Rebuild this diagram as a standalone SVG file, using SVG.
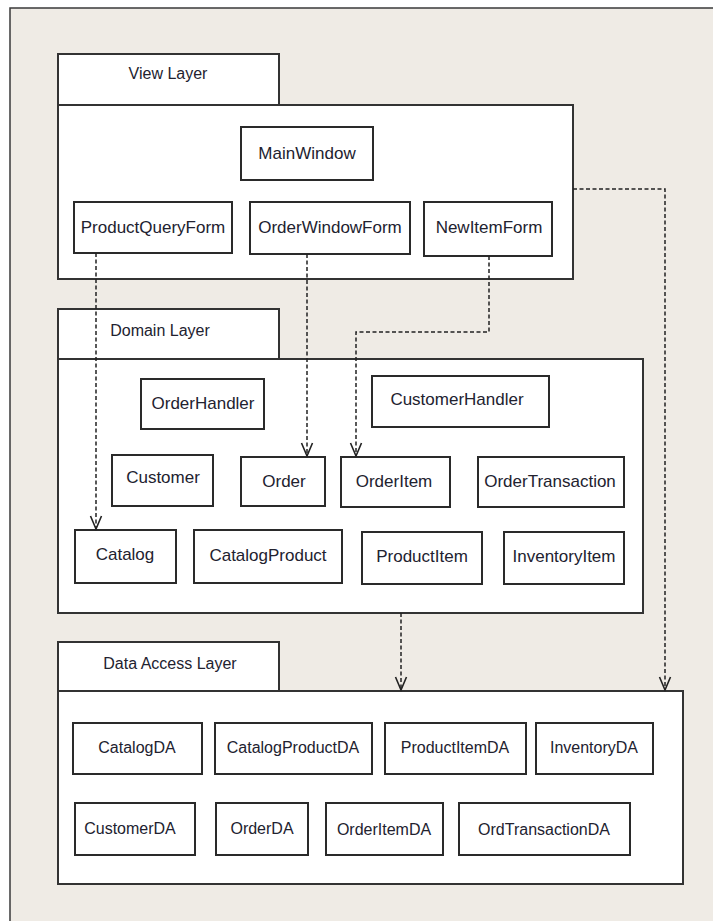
<svg xmlns="http://www.w3.org/2000/svg" width="713" height="921" viewBox="0 0 713 921">
<style>
  .bg { fill: #ffffff; }
  .frame { fill: #efebe5; stroke: #3a3a3a; stroke-width: 1.5; }
  .pkg { fill: #ffffff; stroke: #333333; stroke-width: 2; }
  .box { fill: #ffffff; stroke: #2a2a2a; stroke-width: 2; }
  .t { font-family: "Liberation Sans", Arial, sans-serif; font-size: 17px; fill: #22222f; text-anchor: middle; dominant-baseline: central; }
  .da { font-size: 16px; }
  .tab { font-size: 16px; }
  .dep { fill: none; stroke: #222222; stroke-width: 1.5; stroke-dasharray: 4 2.5; }
</style>
<defs>
  <marker id="open" viewBox="-15 -8 17 16" markerWidth="17" markerHeight="16" refX="0" refY="0" orient="auto" markerUnits="userSpaceOnUse" overflow="visible">
    <polyline points="-13,-5.5 0,0 -13,5.5" fill="none" stroke="#222222" stroke-width="1.6"/>
  </marker>
</defs>
<rect class="bg" x="0" y="0" width="713" height="921"/>
<rect class="frame" x="10" y="8" width="720" height="930"/>

<g id="view-layer">
  <rect class="pkg" x="58" y="54" width="221" height="51"/>
  <rect class="pkg" x="58" y="105" width="515" height="174"/>
  <text class="t tab" x="168" y="73">View Layer</text>
</g>
<g id="domain-layer">
  <rect class="pkg" x="58" y="309" width="221" height="50"/>
  <rect class="pkg" x="58" y="359" width="585" height="254"/>
  <text class="t tab" x="160" y="330">Domain Layer</text>
</g>
<g id="data-access-layer">
  <rect class="pkg" x="58" y="642" width="221" height="49"/>
  <rect class="pkg" x="58" y="691" width="625" height="193"/>
  <text class="t tab" x="170" y="663">Data Access Layer</text>
</g>

<g id="MainWindow"><rect class="box" x="241" y="127" width="132" height="53"/><text class="t" x="307" y="153">MainWindow</text></g>
<g id="ProductQueryForm"><rect class="box" x="74" y="202" width="158" height="51"/><text class="t" x="153" y="227">ProductQueryForm</text></g>
<g id="OrderWindowForm"><rect class="box" x="250" y="202" width="160" height="52"/><text class="t" x="330" y="227">OrderWindowForm</text></g>
<g id="NewItemForm"><rect class="box" x="424" y="202" width="128" height="54"/><text class="t" x="489" y="227">NewItemForm</text></g>

<g id="OrderHandler"><rect class="box" x="141" y="379" width="123" height="50"/><text class="t" x="203" y="403">OrderHandler</text></g>
<g id="CustomerHandler"><rect class="box" x="372" y="376" width="177" height="51"/><text class="t" x="457" y="399">CustomerHandler</text></g>
<g id="Customer"><rect class="box" x="112" y="455" width="101" height="51"/><text class="t" x="163" y="477">Customer</text></g>
<g id="Order"><rect class="box" x="241" y="457" width="84" height="49"/><text class="t" x="284" y="481">Order</text></g>
<g id="OrderItem"><rect class="box" x="341" y="457" width="109" height="50"/><text class="t" x="394" y="481">OrderItem</text></g>
<g id="OrderTransaction"><rect class="box" x="478" y="457" width="146" height="50"/><text class="t" x="550" y="481">OrderTransaction</text></g>
<g id="Catalog"><rect class="box" x="75" y="530" width="101" height="53"/><text class="t" x="125" y="554">Catalog</text></g>
<g id="CatalogProduct"><rect class="box" x="194" y="530" width="148" height="53"/><text class="t" x="268" y="555">CatalogProduct</text></g>
<g id="ProductItem"><rect class="box" x="362" y="532" width="120" height="52"/><text class="t" x="422" y="556">ProductItem</text></g>
<g id="InventoryItem"><rect class="box" x="504" y="532" width="120" height="52"/><text class="t" x="564" y="556">InventoryItem</text></g>

<g id="CatalogDA"><rect class="box" x="73" y="723" width="129" height="51"/><text class="t da" x="137" y="747">CatalogDA</text></g>
<g id="CatalogProductDA"><rect class="box" x="215" y="723" width="157" height="51"/><text class="t da" x="293" y="747">CatalogProductDA</text></g>
<g id="ProductItemDA"><rect class="box" x="385" y="723" width="141" height="51"/><text class="t da" x="455" y="747">ProductItemDA</text></g>
<g id="InventoryDA"><rect class="box" x="536" y="723" width="117" height="51"/><text class="t da" x="594" y="747">InventoryDA</text></g>
<g id="CustomerDA"><rect class="box" x="75" y="803" width="120" height="52"/><text class="t da" x="130" y="828">CustomerDA</text></g>
<g id="OrderDA"><rect class="box" x="216" y="803" width="92" height="52"/><text class="t da" x="262" y="828">OrderDA</text></g>
<g id="OrderItemDA"><rect class="box" x="326" y="803" width="117" height="52"/><text class="t da" x="384" y="829">OrderItemDA</text></g>
<g id="OrdTransactionDA"><rect class="box" x="459" y="803" width="171" height="52"/><text class="t da" x="544" y="829">OrdTransactionDA</text></g>

<g id="connectors">
  <path class="dep" d="M96,253 V529" marker-end="url(#open)"/>
  <path class="dep" d="M307,254 V456" marker-end="url(#open)"/>
  <path class="dep" d="M489,256 V332 H356 V456" marker-end="url(#open)"/>
  <path class="dep" d="M573,189 H665 V690" marker-end="url(#open)"/>
  <path class="dep" d="M401,613 V690" marker-end="url(#open)"/>
</g>
</svg>
